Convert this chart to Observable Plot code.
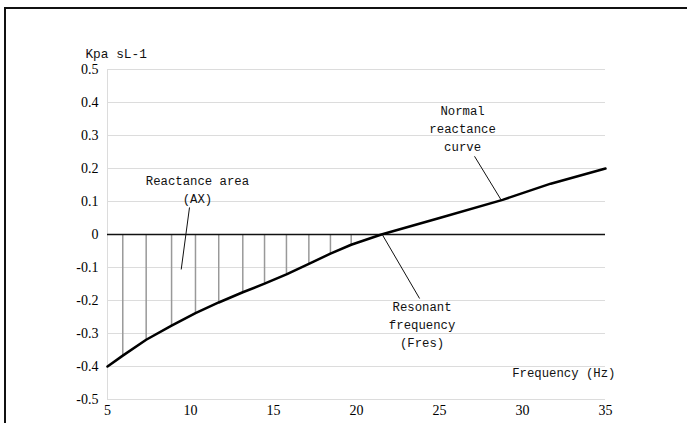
<!DOCTYPE html>
<html>
<head>
<meta charset="utf-8">
<script src="https://cdn.jsdelivr.net/npm/d3@7"></script>
<script src="https://cdn.jsdelivr.net/npm/@observablehq/plot@0.6"></script>
<style>
  html, body { margin: 0; padding: 0; background: #fff; }
  #wrap { position: relative; width: 687px; height: 423px; overflow: hidden; }
  #frame { position: absolute; left: 4px; top: 7px; width: 700px; height: 430px;
           border-left: 2px solid #111; border-top: 2px solid #111; pointer-events: none; }
  #chart { position: absolute; left: 0; top: 0; }
</style>
</head>
<body>
<div id="wrap"><div id="frame"></div><div id="chart"></div></div>
<script>
// Frequency (Hz) and reactance (kPa·s/L)
const frequency = [5, 5.92, 7.33, 8.86, 10.3, 11.7, 13.15, 14.46, 15.78, 17.13, 18.43, 19.68, 21.5, 25, 28.8, 31.7, 35];
const reactance = [-0.4, -0.367, -0.319, -0.276, -0.238, -0.206, -0.175, -0.149, -0.121, -0.089, -0.058, -0.031, 0, 0.05, 0.105, 0.154, 0.2];

const xTicks = [5, 10, 15, 20, 25, 30, 35];
const xTickLabels = ["5", "10", "15", "20", "25", "30", "35"];
const yTicks = [-0.5, -0.4, -0.3, -0.2, -0.1, 0, 0.1, 0.2, 0.3, 0.4, 0.5];
const yTickLabels = ["-0.5", "-0.4", "-0.3", "-0.2", "-0.1", "0", "0.1", "0.2", "0.3", "0.4", "0.5"];

const yAxisTitle = "Kpa sL-1";
const xAxisTitle = "Frequency (Hz)";

// annotations: text, anchor point, leader line start/end
const annotations = [
  {text: "Reactance area\n(AX)", x: 10.42, y: 0.141, x1: 9.94, y1: 0.082, x2: 9.44, y2: -0.106},
  {text: "Normal\nreactance\ncurve", x: 26.39, y: 0.324, x1: 27.11, y1: 0.237, x2: 28.71, y2: 0.105},
  {text: "Resonant\nfrequency\n(Fres)", x: 23.95, y: -0.269, x1: 21.55, y1: 0, x2: 23.8, y2: -0.194}
];

const curve = frequency.map((f, i) => ({f, v: reactance[i]}));
const stems = curve.filter(d => d.f > 5 && d.v < 0);

const mono = "'Liberation Mono', 'Courier New', monospace";
const serif = "'Liberation Serif', 'Times New Roman', serif";
const xFmt = d => xTickLabels[xTicks.indexOf(d)];
const yFmt = d => yTickLabels[yTicks.findIndex(t => Math.abs(t - d) < 1e-9)];

const chart = Plot.plot({
  width: 687,
  height: 423,
  marginLeft: 107,
  marginRight: 82,
  marginTop: 69,
  marginBottom: 24,
  style: {fontFamily: serif, fontSize: "14px", color: "#000", background: "transparent"},
  x: {domain: [5, 35], ticks: xTicks, tickFormat: xFmt, label: null},
  y: {domain: [-0.5, 0.5], ticks: yTicks, tickFormat: yFmt, label: null},
  marks: [
    Plot.gridY(yTicks, {stroke: "#dcdcdc", strokeOpacity: 1, strokeWidth: 1}),
    Plot.gridX([5], {stroke: "#dcdcdc", strokeOpacity: 1, strokeWidth: 1}),
    Plot.axisX(xTicks, {tickSize: 0, tickPadding: 6, tickFormat: xFmt, label: null, fontSize: 14, fontFamily: serif, fill: "#000"}),
    Plot.axisY(yTicks, {tickSize: 0, tickPadding: 9, tickFormat: yFmt, label: null, fontSize: 14, fontFamily: serif, fill: "#000", style: {letterSpacing: "1px"}}),
    Plot.ruleX(stems, {x: "f", y1: 0, y2: "v", stroke: "#999", strokeWidth: 1.5}),
    Plot.ruleY([0], {stroke: "#111", strokeWidth: 1.5}),
    Plot.line(curve, {x: "f", y: "v", stroke: "#000", strokeWidth: 2.5}),
    Plot.link(annotations, {x1: "x1", y1: "y1", x2: "x2", y2: "y2", stroke: "#111", strokeWidth: 1}),
    Plot.text(annotations, {x: "x", y: "y", text: "text", fontFamily: mono, fontSize: 12.3, lineHeight: 1.45, fill: "#111"}),
    Plot.text([yAxisTitle], {x: 3.67, y: 0.548, text: d => d, textAnchor: "start", fontFamily: mono, fontSize: 12.8, fill: "#111"}),
    Plot.text([xAxisTitle], {x: 35.6, y: -0.421, text: d => d, textAnchor: "end", fontFamily: mono, fontSize: 12.3, fill: "#111"})
  ]
});
document.getElementById("chart").appendChild(chart);
</script>
</body>
</html>
